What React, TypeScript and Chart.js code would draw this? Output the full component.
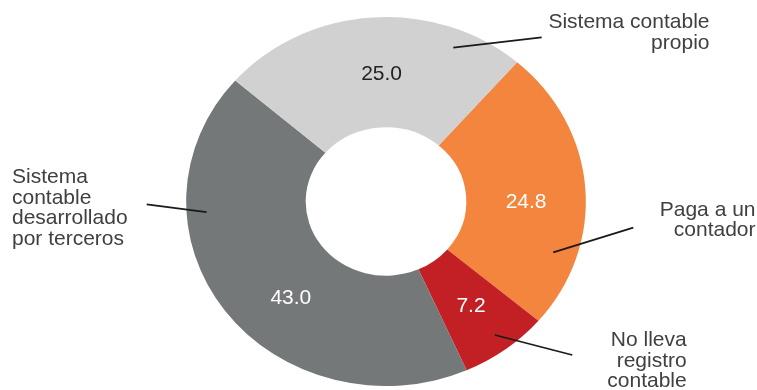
import { useEffect, useRef } from 'react';
import { Chart, registerables } from 'chart.js';

Chart.register(...registerables);

const categories = [
  'Paga a un contador',
  'No lleva registro contable',
  'Sistema contable desarrollado por terceros',
  'Sistema contable propio',
];
const values = [24.8, 7.2, 43.0, 25.0];
const valueLabels = ['24.8', '7.2', '43.0', '25.0'];
const colors = ['#f3853e', '#c32026', '#757878', '#d1d1d1'];
const valueLabelColors = ['#ffffff', '#ffffff', '#ffffff', '#222222'];
const categoryLines = [
  ['Paga a un', 'contador'],
  ['No lleva', 'registro', 'contable'],
  ['Sistema', 'contable', 'desarrollado', 'por terceros'],
  ['Sistema contable', 'propio'],
];

const FONT = '"Liberation Sans", Arial, Helvetica, sans-serif';
const SX = 1.083; // horizontal stretch of the ring (ellipse)

// annotation layout (pixels / degrees)
const valueAngleShift = [4.1, -0.6, -10.8, 2.2];
const leaderAngle = [108.2, 143, 266.3, 22];
const leaderRadius = [0.881, 0.906, 0.9, 0.899];
const leaderEnd = [
  [633.3, 227.7],
  [572.3, 355],
  [146.7, 204.3],
  [541.7, 37.3],
];
const labelAnchor = [
  { x: 755.5, y: 215.5, align: 'right' },
  { x: 686.7, y: 346, align: 'right' },
  { x: 12, y: 183.3, align: 'left' },
  { x: 709.5, y: 28.3, align: 'right' },
];
const LINE_H = 20.5;

const ellipsePlugin = {
  id: 'ellipse',
  beforeDatasetsDraw(chart: any) {
    const arc = chart.getDatasetMeta(0).data[0];
    const ctx = chart.ctx;
    ctx.save();
    ctx.translate(arc.x, 0);
    ctx.scale(SX, 1);
    ctx.translate(-arc.x, 0);
  },
  afterDatasetsDraw(chart: any) {
    chart.ctx.restore();
  },
};

const labelPlugin = {
  id: 'labels',
  afterDraw(chart: any) {
    const ctx = chart.ctx;
    const meta = chart.getDatasetMeta(0);
    ctx.save();
    meta.data.forEach((arc: any, i: number) => {
      const p = arc.getProps(['x', 'y', 'startAngle', 'endAngle', 'innerRadius', 'outerRadius'], true);
      // value label
      const a = (p.startAngle + p.endAngle) / 2 + (valueAngleShift[i] * Math.PI) / 180;
      const r = (p.innerRadius + p.outerRadius) / 2;
      const vx = p.x + SX * r * Math.cos(a);
      const vy = p.y + r * Math.sin(a);
      ctx.font = `21px ${FONT}`;
      ctx.fillStyle = valueLabelColors[i];
      ctx.textAlign = 'center';
      ctx.textBaseline = 'alphabetic';
      ctx.fillText(valueLabels[i], vx, vy + 7.5);

      // leader line
      const la = -Math.PI / 2 + (leaderAngle[i] * Math.PI) / 180;
      const lr = leaderRadius[i] * p.outerRadius;
      const lx = p.x + SX * lr * Math.cos(la);
      const ly = p.y + lr * Math.sin(la);
      ctx.beginPath();
      ctx.moveTo(lx, ly);
      ctx.lineTo(leaderEnd[i][0], leaderEnd[i][1]);
      ctx.strokeStyle = '#1a1a1a';
      ctx.lineWidth = 1.8;
      ctx.stroke();

      // category label
      const an = labelAnchor[i];
      ctx.fillStyle = '#404040';
      ctx.textAlign = an.align as CanvasTextAlign;
      categoryLines[i].forEach((line, j) => {
        ctx.fillText(line, an.x, an.y + j * LINE_H);
      });
    });
    ctx.restore();
  },
};

export default function App() {
  const ref = useRef<HTMLCanvasElement>(null);
  useEffect(() => {
    if (!ref.current) return;
    const chart = new Chart(ref.current, {
      type: 'doughnut',
      data: {
        labels: categories,
        datasets: [
          {
            data: values,
            backgroundColor: colors,
            borderWidth: 0,
            hoverOffset: 0,
          },
        ],
      },
      options: {
        responsive: false,
        animation: false,
        devicePixelRatio: 1,
        rotation: 41,
        cutout: '40.2%',
        layout: { padding: { top: 17, bottom: 4, left: 201.5, right: 186.5 } },
        plugins: { legend: { display: false }, tooltip: { enabled: false } },
      },
      plugins: [ellipsePlugin, labelPlugin],
    } as any);
    return () => chart.destroy();
  }, []);
  return (
    <div style={{ position: 'absolute', left: 0, top: 0, width: 757, height: 390, background: '#fff' }}>
      <canvas ref={ref} width={757} height={390} style={{ display: 'block' }} />
    </div>
  );
}
